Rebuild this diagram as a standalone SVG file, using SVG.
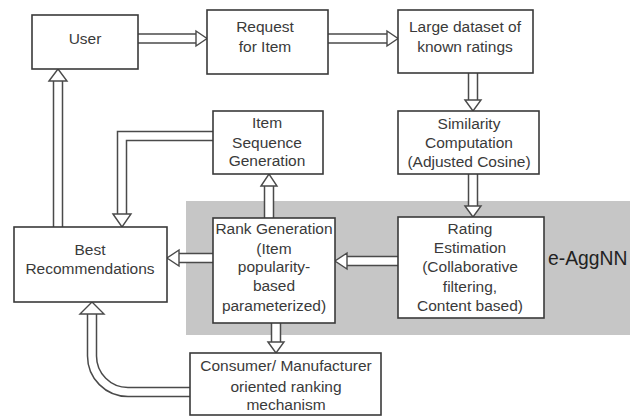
<svg xmlns="http://www.w3.org/2000/svg" width="630" height="417" viewBox="0 0 630 417">
<style>
.box{fill:#fff;stroke:#3a3a3a;stroke-width:1.6}
.t{font-family:"Liberation Sans",Arial,sans-serif;font-size:15.5px;fill:#3a3a3a;text-anchor:middle}
.so{fill:none;stroke:#4a4a4a;stroke-width:10.5}
.si{fill:none;stroke:#fff;stroke-width:7.5}
.ah{fill:#fff;stroke:#4a4a4a;stroke-width:1.4;stroke-linejoin:miter}
</style>
<rect x="0" y="0" width="630" height="417" fill="#fff"/>
<rect id="region" x="186" y="201" width="444" height="134" fill="#c6c6c6"/>
<text x="548" y="265" style="font-family:'Liberation Sans',Arial,sans-serif;font-size:19.3px;fill:#222">e-AggNN</text>

<g id="connectors">
  <path class="so" d="M138,38.5 H197"/><path class="si" d="M137,38.5 H198"/>
  <polygon class="ah" points="196,31 207,38.5 196,46"/>
  <path class="so" d="M328,38.5 H387"/><path class="si" d="M327,38.5 H388"/>
  <polygon class="ah" points="387,31 398,38.5 387,46"/>
  <path class="so" d="M473,73 V101"/><path class="si" d="M473,72 V102"/>
  <polygon class="ah" points="465,100 473,111 481,100"/>
  <path class="so" d="M473,174 V207"/><path class="si" d="M473,173 V208"/>
  <polygon class="ah" points="465,206 473,217 481,206"/>
  <path class="so" d="M398,261 H346"/><path class="si" d="M399,261 H345"/>
  <polygon class="ah" points="347,253 335,261 347,269"/>
  <path class="so" d="M213,258 H179"/><path class="si" d="M214,258 H178"/>
  <polygon class="ah" points="179,250 167,258 179,266"/>
  <path class="so" d="M269,218 V185"/><path class="si" d="M269,219 V184"/>
  <polygon class="ah" points="261,186 269,174 277,186"/>
  <path class="so" d="M276,323 V343"/><path class="si" d="M276,322 V344"/>
  <polygon class="ah" points="268,342 276,353 284,342"/>
  <path class="so" d="M213,136 H122 V215"/><path class="si" d="M214,136 H122 V216"/>
  <polygon class="ah" points="113,214 122,227 131,214"/>
  <path class="so" d="M58,302 V80"/><path class="si" d="M58,303 V79"/>
  <polygon class="ah" points="49,81 58,69 67,81"/>
  <path class="so" d="M190,392 H128 A36,36 0 0 1 92,356 V313"/><path class="si" d="M191,392 H128 A36,36 0 0 1 92,356 V312"/>
  <polygon class="ah" points="80,314 92,302 104,314"/>
</g>

<g id="user"><rect class="box" x="32" y="15" width="106" height="54"/>
<text class="t" x="85" y="44">User</text></g>
<g id="request"><rect class="box" x="207" y="10" width="121" height="64"/>
<text class="t" x="265" y="32">Request</text><text class="t" x="265" y="52">for Item</text></g>
<g id="dataset"><rect class="box" x="398" y="10" width="135" height="63"/>
<text class="t" x="465" y="32">Large dataset of</text><text class="t" x="465" y="52">known ratings</text></g>
<g id="similarity"><rect class="box" x="398" y="111" width="141" height="63"/>
<text class="t" x="469" y="129">Similarity</text><text class="t" x="469" y="148">Computation</text><text class="t" x="469" y="167">(Adjusted Cosine)</text></g>
<g id="itemseq"><rect class="box" x="213" y="111" width="110" height="63"/>
<text class="t" x="267" y="128">Item</text><text class="t" x="267" y="148">Sequence</text><text class="t" x="267" y="166">Generation</text></g>
<g id="best"><rect class="box" x="14" y="227" width="153" height="75"/>
<text class="t" x="90" y="255">Best</text><text class="t" x="90" y="274">Recommendations</text></g>
<g id="rank"><rect class="box" x="213" y="218" width="122" height="105"/>
<text class="t" x="274" y="234">Rank Generation</text><text class="t" x="274" y="254">(Item</text><text class="t" x="274" y="272">popularity-</text><text class="t" x="274" y="291">based</text><text class="t" x="274" y="311">parameterized)</text></g>
<g id="rating"><rect class="box" x="398" y="217" width="146" height="101"/>
<text class="t" x="470" y="234">Rating</text><text class="t" x="470" y="253">Estimation</text><text class="t" x="470" y="272">(Collaborative</text><text class="t" x="470" y="292">filtering,</text><text class="t" x="470" y="311">Content based)</text></g>
<g id="consumer"><rect class="box" x="190" y="353" width="191" height="62"/>
<text class="t" x="286" y="371">Consumer/ Manufacturer</text><text class="t" x="286" y="392">oriented ranking</text><text class="t" x="286" y="410">mechanism</text></g>
</svg>
